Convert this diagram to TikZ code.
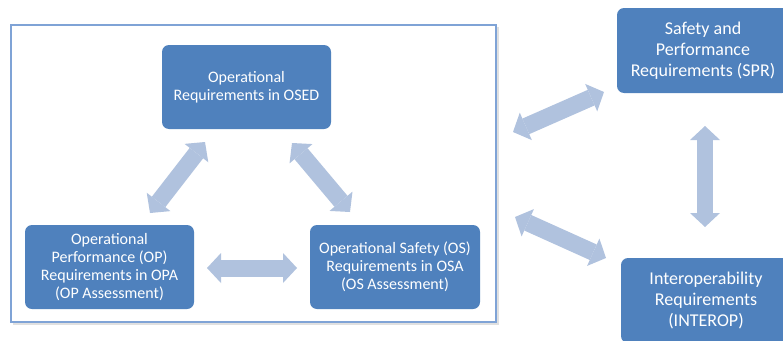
\documentclass[tikz,border=0pt]{standalone}
\usepackage{fontspec}
\setmainfont{Carlito}
\usetikzlibrary{arrows.meta}
\definecolor{boxblue}{HTML}{4F81BD}
\definecolor{arrowblue}{HTML}{B0C2DE}
\definecolor{framec}{HTML}{7FA3D6}
\begin{document}
\begin{tikzpicture}[x=1pt,y=-1pt,
  box/.style={fill=boxblue, rounded corners=7pt, text=white, align=center, inner sep=0pt},
  lbox/.style={box, minimum width=169pt, minimum height=84pt, font=\fontsize{16}{17.8}\selectfont},
  rbox/.style={box, minimum width=172pt, minimum height=85pt, font=\fontsize{18}{21}\selectfont},
  dbl/.style={draw=arrowblue, line width=17pt,
    {Triangle[width=30pt,length=14pt,line width=0pt]}-{Triangle[width=30pt,length=14pt,line width=0pt]}}]
\useasboundingbox (0,0) rectangle (783,340);
\clip (0,0) rectangle (783,340);
% frame with soft shadow
\draw[black!12, line width=2pt] (14,28) rectangle (498,324);
\draw[framec, fill=white, line width=1.3pt] (11,25) rectangle (496,322);
% boxes
\node[lbox] (osed) at (246.5,87) {Operational\\Requirements in OSED};
\node[lbox] (op) at (109.5,267) {Operational\\Performance (OP)\\Requirements in OPA\\(OP Assessment)};
\node[lbox, minimum width=170pt] (os) at (395,267) {Operational Safety (OS)\\Requirements in OSA\\(OS Assessment)};
\node[rbox] (spr) at (703,50.5) {Safety and\\Performance\\Requirements (SPR)};
\node[rbox, minimum width=170pt] (interop) at (706,300.5) {Interoperability\\Requirements\\(INTEROP)};
% arrow end points
\coordinate (a1s) at (205,142); \coordinate (a1e) at (150,213);
\coordinate (a2s) at (292,143); \coordinate (a2e) at (350,212);
\coordinate (a3s) at (207,268); \coordinate (a3e) at (297,268);
\coordinate (a4s) at (513,132); \coordinate (a4e) at (604,92);
\coordinate (a5s) at (515,217); \coordinate (a5e) at (606,258);
\coordinate (a6s) at (705,126); \coordinate (a6e) at (705,227);
\draw[dbl] (a1s) -- (a1e);
\draw[dbl] (a2s) -- (a2e);
\draw[dbl] (a3s) -- (a3e);
\draw[dbl] (a4s) -- (a4e);
\draw[dbl] (a5s) -- (a5e);
\draw[dbl, line width=16pt] (a6s) -- (a6e);
\end{tikzpicture}
\end{document}
